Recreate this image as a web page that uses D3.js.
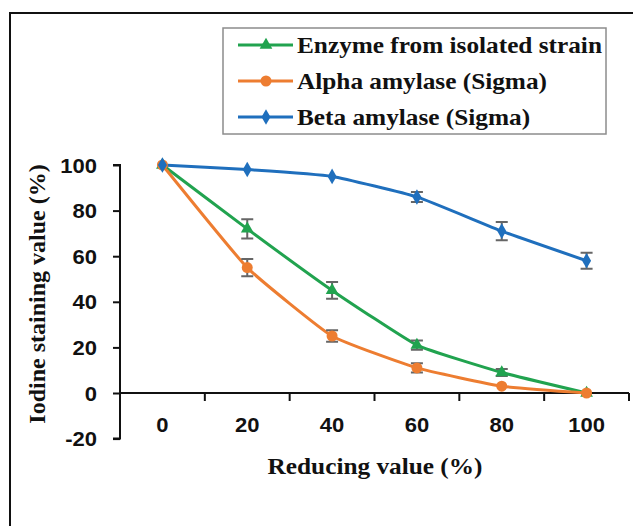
<!DOCTYPE html>
<html>
<head>
<meta charset="utf-8">
<script src="https://cdn.jsdelivr.net/npm/d3@7"></script>
<style>
  body { margin: 0; background: #fff; }
  svg { display: block; }
</style>
</head>
<body>
<script>
var width = 633, height = 526, stretch = 1.1

var categories = ["0", "20", "40", "60", "80", "100"];
var seriesNames = ["Enzyme from isolated strain", "Alpha amylase (Sigma)", "Beta amylase (Sigma)"];
var enzymeValues = [100, 72, 45, 21, 9, 0];
var enzymeErrors = [0.5, 4.2, 3.7, 2, 1.5, 0.5];
var alphaValues = [100, 55, 25, 11, 3, 0];
var alphaErrors = [0.5, 3.8, 2.5, 2, 0.8, 0.5];
var betaValues = [100, 98, 95, 86, 71, 58];
var betaErrors = [0.5, 0.6, 1, 2.2, 4, 3.5];
var yTicks = [-20, 0, 20, 40, 60, 80, 100];

var series = [
  { name: seriesNames[0], values: enzymeValues, errors: enzymeErrors, color: "#21a34f", symbol: d3.symbolTriangle, size: 70 },
  { name: seriesNames[1], values: alphaValues, errors: alphaErrors, color: "#ed7d31", symbol: d3.symbolCircle, size: 95 },
  { name: seriesNames[2], values: betaValues, errors: betaErrors, color: "#1f6fbd", symbol: d3.symbolDiamond, size: 70 }
];

var svg = d3.select("body")
    .append("svg")
    .attr("width", width)
    .attr("height", height);

// outer frame (only top and left edges fall inside the picture)
svg.append("rect")
    .attr("x", 10).attr("y", 13)
    .attr("width", 660).attr("height", 560)
    .attr("fill", "none")
    .attr("stroke", "#111")
    .attr("stroke-width", 2);

var x = d3.scaleBand().domain(categories).range([120, 629]);
var y = d3.scaleLinear().domain([-20, 100]).range([438.6, 165]);
var cx = function(c) { return x(c) + x.bandwidth() / 2; };

// y axis
var yAxis = svg.append("g")
    .attr("transform", "translate(120,0)")
    .call(d3.axisLeft(y).tickValues(yTicks).tickSize(7).tickFormat(""));
yAxis.select(".domain").attr("stroke", "#111").attr("stroke-width", 2).attr("d", "M-7," + y(100) + "H0V" + y(-20) + "H-7");
yAxis.selectAll(".tick line").attr("stroke", "#111").attr("stroke-width", 2);

yTicks.forEach(function(t) {
  svg.append("text")
      .attr("transform", "translate(97," + (y(t) + 7.5) + ") scale(" + stretch + ",1)")
      .attr("text-anchor", "end")
      .style("font", "bold 20px 'Liberation Sans', Arial, sans-serif")
      .attr("fill", "#111")
      .text(t);
});

// x axis sitting at y = 0
var xAxis = svg.append("g").attr("transform", "translate(0," + y(0) + ")");
xAxis.append("line")
    .attr("x1", 120).attr("x2", 629)
    .attr("stroke", "#111").attr("stroke-width", 2);
var bounds = categories.map(function(c) { return x(c); }).slice(1).concat([x.range()[1]]);
xAxis.selectAll(".xt")
    .data(bounds)
  .enter().append("line")
    .attr("x1", function(d) { return d; })
    .attr("x2", function(d) { return d; })
    .attr("y1", 0).attr("y2", 8)
    .attr("stroke", "#111").attr("stroke-width", 2);

categories.forEach(function(c) {
  svg.append("text")
      .attr("transform", "translate(" + cx(c) + ",432) scale(" + stretch + ",1)")
      .attr("text-anchor", "middle")
      .style("font", "bold 20px 'Liberation Sans', Arial, sans-serif")
      .attr("fill", "#111")
      .text(c);
});

// axis titles
svg.append("text")
    .attr("transform", "translate(375,474) scale(" + stretch + ",1)")
    .attr("text-anchor", "middle")
    .style("font", "bold 23px 'Liberation Serif', 'Times New Roman', serif")
    .attr("fill", "#111")
    .text("Reducing value (%)");

svg.append("text")
    .attr("transform", "translate(45,294) rotate(-90)")
    .attr("text-anchor", "middle")
    .style("font", "bold 24px 'Liberation Serif', 'Times New Roman', serif")
    .attr("fill", "#111")
    .text("Iodine staining value (%)");

// lines, error bars, markers
var line = d3.line()
    .x(function(d, i) { return cx(categories[i]); })
    .y(function(d) { return y(d); })
    .curve(d3.curveCardinal.tension(0.6));

series.forEach(function(s) {
  svg.append("path")
      .attr("d", line(s.values))
      .attr("fill", "none")
      .attr("stroke", s.color)
      .attr("stroke-width", 3);
});

series.forEach(function(s) {
  var g = svg.append("g");
  s.values.forEach(function(v, i) {
    var px = cx(categories[i]), e = s.errors[i];
    if (e > 1) {
      g.append("path")
          .attr("d", "M" + (px - 6) + "," + y(v + e) + "H" + (px + 6) +
                     "M" + px + "," + y(v + e) + "V" + y(v - e) +
                     "M" + (px - 6) + "," + y(v - e) + "H" + (px + 6))
          .attr("fill", "none")
          .attr("stroke", "#666")
          .attr("stroke-width", 2);
    }
    g.append("path")
        .attr("d", d3.symbol().type(s.symbol).size(s.size)())
        .attr("transform", "translate(" + px + "," + y(v) + ")")
        .attr("fill", s.color);
  });
});

// legend
var legend = svg.append("g");
legend.append("rect")
    .attr("x", 223).attr("y", 28)
    .attr("width", 383).attr("height", 106)
    .attr("fill", "#fff")
    .attr("stroke", "#8c8c8c")
    .attr("stroke-width", 1.5);

series.forEach(function(s, i) {
  var ly = 45 + i * 36;
  legend.append("line")
      .attr("x1", 238).attr("x2", 293)
      .attr("y1", ly).attr("y2", ly)
      .attr("stroke", s.color).attr("stroke-width", 3);
  legend.append("path")
      .attr("d", d3.symbol().type(s.symbol).size(s.size)())
      .attr("transform", "translate(266," + ly + ")")
      .attr("fill", s.color);
  legend.append("text")
      .attr("transform", "translate(297," + (ly + 8) + ") scale(" + stretch + ",1)")
      .style("font", "bold 23px 'Liberation Serif', 'Times New Roman', serif")
      .attr("fill", "#111")
      .text(s.name);
});
</script>
</body>
</html>
